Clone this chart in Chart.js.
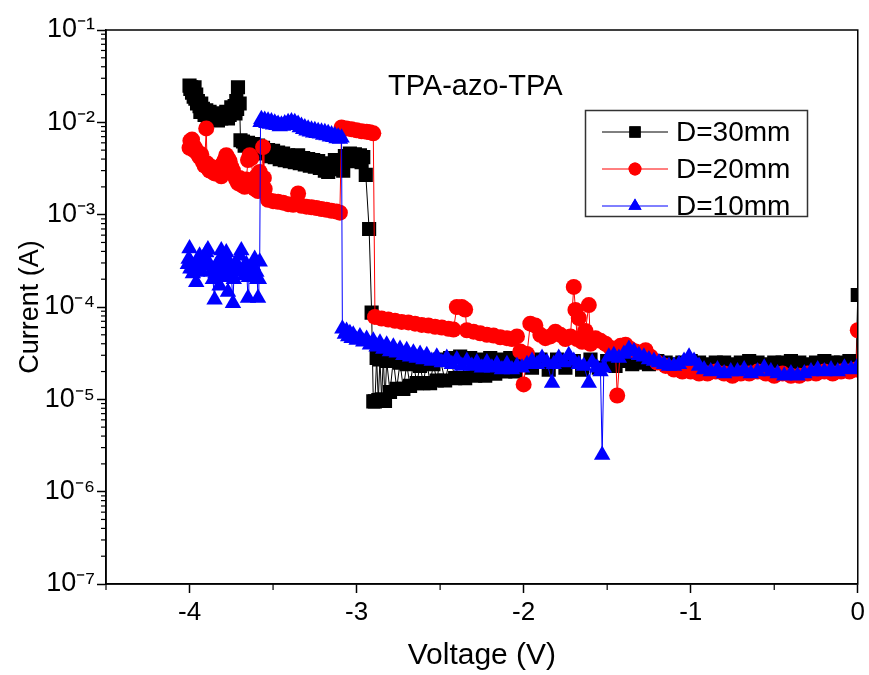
<!DOCTYPE html>
<html><head><meta charset="utf-8">
<script src="https://cdn.jsdelivr.net/npm/chart.js@4/dist/chart.umd.min.js"></script>
<style>html,body{margin:0;padding:0;background:#fff}#wrap{width:869px;height:675px}</style>
</head><body><div id="wrap"><canvas id="c" width="869" height="675"></canvas></div>
<script>
const seriesNames = ['D=30mm', 'D=20mm', 'D=10mm'];
const annotationText = 'TPA-azo-TPA';
const xTickValues = [-4, -3, -2, -1, 0];
const yTickExps = [-7, -6, -5, -4, -3, -2, -1];

const volt30 = [-4.00,-3.995,-3.99,-3.985,-3.98,-3.975,-3.97,-3.965,-3.96,-3.955,-3.95,-3.94,-3.935,-3.93,-3.92,-3.91,-3.90,-3.89,-3.88,-3.87,-3.86,-3.85,-3.84,-3.83,-3.82,-3.81,-3.80,-3.79,-3.78,-3.77,-3.76,-3.75,-3.74,-3.73,-3.725,-3.72,-3.715,-3.71,-3.70,-3.695,
 -3.68,-3.67,-3.65,-3.64,-3.62,-3.61,-3.59,-3.58,-3.56,-3.55,-3.53,-3.52,-3.50,-3.49,-3.47,-3.46,-3.44,-3.43,-3.41,-3.40,-3.38,-3.37,-3.35,-3.34,-3.32,-3.31,-3.29,-3.28,-3.26,-3.25,-3.23,-3.22,-3.20,-3.19,-3.18,-3.17,-3.16,-3.14,-3.13,-3.11,-3.10,-3.08,-3.07,-3.05,-3.04,-3.02,-3.01,-2.99,-2.98,-2.97,-2.96,-2.945,-2.925,-2.91,
 -2.90,-2.89,-2.88,-2.87,-2.86,-2.85,-2.84,-2.83,-2.82,-2.80,-2.78,-2.76,-2.74,-2.72,-2.70,-2.68,-2.66,-2.64,-2.62,-2.60,-2.58,-2.56,-2.54,-2.52,-2.50,-2.47,-2.44,-2.41,-2.38,-2.35,-2.32,-2.29,-2.26,-2.23,-2.20,-2.17,-2.14,-2.11,-2.08,-2.05,-2.00,
 -1.95,-1.90,-1.85,-1.80,-1.75,-1.70,-1.65,-1.60,-1.55,-1.50,-1.45,-1.40,-1.35,-1.30,-1.25,-1.20,-1.15,-1.10,-1.05,-1.00,-0.95,-0.90,-0.85,-0.80,-0.75,-0.70,-0.65,-0.60,-0.55,-0.50,-0.45,-0.40,-0.35,-0.30,-0.25,-0.20,-0.15,-0.10,-0.05,-0.01,0.00];
const curr30 = [2.5e-2,2.3e-2,2.4e-2,2.1e-2,2.3e-2,1.9e-2,2.4e-2,1.8e-2,2.0e-2,1.6e-2,1.7e-2,1.5e-2,1.3e-2,1.6e-2,1.4e-2,1.2e-2,1.35e-2,1.15e-2,1.3e-2,1.1e-2,1.2e-2,1.1e-2,1.15e-2,1.05e-2,1.2e-2,1.1e-2,1.25e-2,1.15e-2,1.3e-2,1.1e-2,1.2e-2,1.45e-2,1.35e-2,1.5e-2,1.25e-2,1.7e-2,1.4e-2,2.4e-2,1.6e-2,6.4e-3,
 6.2e-3,5.6e-3,6.0e-3,5.4e-3,5.8e-3,5.0e-3,5.6e-3,4.8e-3,5.3e-3,4.6e-3,5.0e-3,4.3e-3,4.9e-3,4.2e-3,4.7e-3,4.0e-3,4.6e-3,3.9e-3,4.4e-3,3.8e-3,4.3e-3,3.7e-3,4.4e-3,3.6e-3,4.1e-3,3.5e-3,4.0e-3,3.4e-3,3.9e-3,3.3e-3,3.8e-3,3.2e-3,3.6e-3,3.0e-3,3.2e-3,2.9e-3,3.5e-3,3.3e-3,3.9e-3,3.1e-3,3.4e-3,3.0e-3,4.3e-3,3.8e-3,4.6e-3,4.0e-3,4.5e-3,3.9e-3,4.4e-3,3.7e-3,4.2e-3,2.7e-3,7.0e-4,8.7e-5,
 9.5e-6,9.5e-6,2.8e-5,9.8e-6,2.7e-5,1.0e-5,2.8e-5,9.6e-6,2.6e-5,1.2e-5,2.7e-5,1.3e-5,2.5e-5,1.3e-5,2.4e-5,1.4e-5,2.5e-5,1.5e-5,2.3e-5,1.5e-5,2.6e-5,1.5e-5,2.4e-5,1.6e-5,2.7e-5,1.6e-5,2.8e-5,1.7e-5,2.9e-5,1.7e-5,2.8e-5,1.8e-5,2.7e-5,1.8e-5,2.8e-5,1.9e-5,2.7e-5,2.0e-5,2.8e-5,2.0e-5,2.7e-5,
 2.2e-5,2.7e-5,2.1e-5,2.7e-5,2.2e-5,2.6e-5,2.1e-5,2.7e-5,2.2e-5,2.6e-5,2.3e-5,2.6e-5,2.4e-5,2.5e-5,2.4e-5,2.6e-5,2.5e-5,2.4e-5,2.5e-5,2.6e-5,2.5e-5,2.4e-5,2.5e-5,2.5e-5,2.4e-5,2.5e-5,2.6e-5,2.5e-5,2.4e-5,2.5e-5,2.5e-5,2.6e-5,2.5e-5,2.4e-5,2.5e-5,2.6e-5,2.5e-5,2.5e-5,2.6e-5,2.5e-5,1.35e-4];

const volt20 = [-4.00,-3.995,-3.99,-3.985,-3.98,-3.975,-3.97,-3.96,-3.95,-3.94,-3.93,-3.92,-3.91,-3.90,-3.895,-3.89,-3.88,-3.87,-3.86,-3.85,-3.84,-3.83,-3.82,-3.81,-3.80,-3.79,-3.78,-3.77,-3.76,-3.75,-3.74,-3.73,-3.72,-3.71,-3.70,-3.69,-3.68,-3.67,-3.66,-3.65,-3.64,-3.63,-3.62,-3.61,-3.60,-3.59,-3.58,-3.57,-3.56,-3.555,-3.55,
 -3.53,-3.50,-3.47,-3.44,-3.41,-3.38,-3.35,-3.33,-3.30,-3.27,-3.24,-3.21,-3.18,-3.15,-3.12,-3.10,
 -3.09,-3.06,-3.03,-3.00,-2.97,-2.94,-2.92,-2.90,
 -2.89,-2.85,-2.81,-2.77,-2.73,-2.69,-2.65,-2.61,-2.57,-2.53,-2.49,-2.45,-2.42,-2.40,-2.37,-2.35,-2.34,-2.30,-2.26,-2.22,-2.18,-2.14,-2.10,-2.07,-2.04,-2.02,-2.00,-1.98,
 -1.96,-1.93,-1.90,-1.87,-1.84,-1.81,-1.78,-1.75,-1.72,-1.70,-1.69,-1.68,-1.67,-1.65,-1.63,-1.61,-1.60,-1.57,-1.54,-1.51,-1.48,-1.45,-1.44,-1.42,-1.39,-1.36,-1.33,-1.30,-1.27,-1.24,-1.20,-1.15,
 -1.10,-1.05,-1.00,-0.95,-0.90,-0.85,-0.80,-0.75,-0.70,-0.65,-0.60,-0.55,-0.50,-0.45,-0.40,-0.35,-0.30,-0.25,-0.20,-0.15,-0.10,-0.05,-0.01,0.00];
const curr20 = [5.3e-3,6.3e-3,5.8e-3,6.5e-3,5.6e-3,5.0e-3,5.4e-3,5.0e-3,4.5e-3,4.2e-3,4.5e-3,3.7e-3,3.4e-3,8.6e-3,3.6e-3,3.2e-3,3.0e-3,3.3e-3,2.9e-3,2.8e-3,3.1e-3,2.9e-3,3.3e-3,2.6e-3,3.6e-3,3.9e-3,4.4e-3,4.1e-3,3.8e-3,3.3e-3,3.0e-3,2.6e-3,2.4e-3,2.2e-3,2.5e-3,2.1e-3,2.3e-3,2.0e-3,2.4e-3,3.9e-3,4.4e-3,4.1e-3,2.2e-3,1.9e-3,2.6e-3,1.8e-3,2.9e-3,2.4e-3,5.4e-3,2.5e-3,1.9e-3,
 1.45e-3,1.40e-3,1.38e-3,1.35e-3,1.30e-3,1.28e-3,1.7e-3,1.25e-3,1.22e-3,1.20e-3,1.18e-3,1.15e-3,1.13e-3,1.10e-3,1.08e-3,1.05e-3,
 8.8e-3,8.6e-3,8.4e-3,8.2e-3,8.0e-3,7.9e-3,7.8e-3,7.6e-3,
 7.8e-5,7.5e-5,7.3e-5,7.1e-5,6.9e-5,6.8e-5,6.6e-5,6.4e-5,6.3e-5,6.1e-5,6.0e-5,5.8e-5,5.7e-5,1.0e-4,1.0e-4,9.4e-5,5.6e-5,5.4e-5,5.2e-5,5.0e-5,4.9e-5,4.7e-5,4.6e-5,4.5e-5,4.8e-5,3.3e-5,1.45e-5,3.1e-5,
 6.6e-5,6.3e-5,5.0e-5,4.6e-5,4.8e-5,5.4e-5,5.0e-5,4.5e-5,4.8e-5,1.65e-4,9.3e-5,4.5e-5,7.6e-5,4.2e-5,5.5e-5,1.05e-4,4.0e-5,4.6e-5,4.3e-5,4.0e-5,3.6e-5,3.2e-5,1.1e-5,3.8e-5,3.9e-5,3.5e-5,3.3e-5,3.2e-5,3.4e-5,2.9e-5,2.5e-5,2.3e-5,
 2.1e-5,2.0e-5,2.0e-5,1.9e-5,1.9e-5,2.0e-5,1.9e-5,1.8e-5,1.9e-5,1.9e-5,2.0e-5,1.9e-5,1.8e-5,1.9e-5,1.8e-5,1.8e-5,1.9e-5,1.9e-5,2.0e-5,1.9e-5,2.0e-5,2.0e-5,2.1e-5,5.6e-5];

const volt10 = [-4.01,-4.005,-4.00,-3.995,-3.99,-3.98,-3.97,-3.96,-3.955,-3.95,-3.94,-3.93,-3.92,-3.91,-3.90,-3.89,-3.88,-3.87,-3.86,-3.85,-3.845,-3.84,-3.83,-3.82,-3.815,-3.81,-3.80,-3.79,-3.785,-3.78,-3.775,-3.77,-3.765,-3.76,-3.75,-3.74,-3.735,-3.73,-3.72,-3.71,-3.70,-3.69,-3.68,-3.67,-3.66,-3.65,-3.645,-3.64,-3.63,-3.62,-3.61,-3.60,-3.595,-3.59,-3.585,-3.58,
 -3.575,-3.57,-3.56,-3.55,-3.54,-3.53,-3.52,-3.51,-3.50,-3.49,-3.48,-3.47,-3.46,-3.45,-3.44,-3.43,-3.42,-3.41,-3.40,-3.39,-3.38,-3.37,-3.36,-3.35,-3.34,-3.33,-3.32,-3.31,-3.30,-3.29,-3.28,-3.27,-3.26,-3.25,-3.24,-3.23,-3.22,-3.21,-3.20,-3.19,-3.18,-3.17,-3.16,-3.15,-3.14,-3.13,-3.12,-3.11,-3.10,-3.09,
 -3.085,-3.07,-3.06,-3.05,-3.04,-3.03,-3.02,-3.00,-2.98,-2.96,-2.94,-2.92,-2.90,-2.88,-2.86,-2.84,-2.82,-2.80,-2.78,-2.76,-2.74,-2.72,-2.70,-2.68,-2.66,-2.64,-2.62,-2.60,-2.58,-2.55,-2.52,-2.49,-2.46,-2.43,-2.40,-2.37,-2.34,-2.31,-2.28,-2.25,-2.22,-2.19,-2.16,-2.13,-2.10,-2.07,-2.04,-2.01,
 -1.98,-1.95,-1.92,-1.89,-1.86,-1.83,-1.82,-1.79,-1.76,-1.73,-1.70,-1.67,-1.64,-1.61,-1.59,-1.56,-1.54,-1.53,-1.52,-1.49,-1.46,-1.43,-1.40,-1.37,-1.34,-1.31,-1.28,-1.25,-1.22,-1.19,-1.16,-1.13,-1.10,-1.07,-1.04,-1.01,-0.98,-0.95,
 -0.92,-0.88,-0.84,-0.80,-0.76,-0.72,-0.68,-0.64,-0.60,-0.56,-0.52,-0.48,-0.44,-0.40,-0.36,-0.32,-0.28,-0.24,-0.20,-0.16,-0.12,-0.08,-0.04,0.00];
const curr10 = [2.9e-4,3.3e-4,4.3e-4,2.6e-4,3.0e-4,2.3e-4,2.6e-4,1.85e-4,2.4e-4,3.1e-4,3.6e-4,2.5e-4,2.8e-4,3.3e-4,3.9e-4,4.2e-4,2.9e-4,2.4e-4,2.0e-4,1.2e-4,2.3e-4,2.8e-4,2.2e-4,1.7e-4,3.4e-4,4.1e-4,3.0e-4,2.5e-4,3.5e-4,3.9e-4,2.1e-4,1.45e-4,2.6e-4,3.0e-4,2.3e-4,1.1e-4,2.0e-4,2.7e-4,3.0e-4,2.4e-4,3.6e-4,4.1e-4,2.6e-4,2.2e-4,2.9e-4,1.25e-4,2.1e-4,2.6e-4,2.2e-4,2.8e-4,3.3e-4,2.4e-4,2.0e-4,1.25e-4,2.0e-4,3.1e-4,
 1.0e-2,1.08e-2,1.0e-2,1.06e-2,9.8e-3,1.04e-2,9.6e-3,1.02e-2,9.4e-3,9.9e-3,9.3e-3,9.6e-3,9.0e-3,9.4e-3,9.1e-3,9.7e-3,9.3e-3,1.0e-2,9.5e-3,1.02e-2,9.6e-3,1.0e-2,9.3e-3,9.6e-3,8.8e-3,9.1e-3,8.4e-3,8.8e-3,8.1e-3,8.5e-3,7.9e-3,8.3e-3,7.7e-3,8.2e-3,7.6e-3,8.0e-3,7.5e-3,7.9e-3,7.3e-3,7.8e-3,7.2e-3,7.6e-3,7.0e-3,7.4e-3,6.9e-3,7.2e-3,6.7e-3,7.0e-3,6.6e-3,6.8e-3,
 5.8e-5,5.1e-5,5.5e-5,4.8e-5,5.2e-5,4.6e-5,5.0e-5,4.4e-5,4.8e-5,4.2e-5,4.5e-5,3.9e-5,4.3e-5,3.7e-5,4.1e-5,3.5e-5,3.9e-5,3.3e-5,3.7e-5,3.2e-5,3.5e-5,3.0e-5,3.4e-5,2.9e-5,3.2e-5,2.8e-5,3.1e-5,2.7e-5,3.0e-5,2.6e-5,2.9e-5,2.5e-5,2.8e-5,2.4e-5,2.7e-5,2.3e-5,2.6e-5,2.3e-5,2.5e-5,2.2e-5,2.5e-5,2.2e-5,2.4e-5,2.1e-5,2.4e-5,2.1e-5,2.3e-5,2.2e-5,
 2.4e-5,2.6e-5,2.4e-5,2.8e-5,2.5e-5,1.5e-5,2.4e-5,2.8e-5,2.5e-5,3.0e-5,2.6e-5,2.4e-5,2.3e-5,1.5e-5,2.5e-5,2.2e-5,2.0e-5,2.5e-6,2.2e-5,2.9e-5,3.0e-5,2.8e-5,3.1e-5,3.5e-5,3.3e-5,3.0e-5,2.9e-5,2.7e-5,2.6e-5,2.5e-5,2.4e-5,2.3e-5,2.3e-5,2.4e-5,2.6e-5,2.9e-5,2.6e-5,2.3e-5,
 2.1e-5,2.0e-5,2.1e-5,1.9e-5,2.0e-5,2.0e-5,2.1e-5,1.9e-5,2.0e-5,2.2e-5,2.0e-5,1.9e-5,1.8e-5,1.9e-5,1.8e-5,1.9e-5,2.0e-5,2.1e-5,2.0e-5,2.1e-5,2.0e-5,2.2e-5,2.1e-5,2.3e-5];

const FONT = "'Liberation Sans', Arial, sans-serif";
const supMap = {'-':'\u207B','0':'\u2070','1':'\u00B9','2':'\u00B2','3':'\u00B3','4':'\u2074','5':'\u2075','6':'\u2076','7':'\u2077','8':'\u2078','9':'\u2079'};
const sup = e => String(e).split('').map(c => supMap[c]).join('');
const pts = (xs, ys) => xs.map((v, i) => ({x: v, y: ys[i]}));

const styles = [
  {color: '#000000', pointStyle: 'rect', radius: 10},
  {color: '#ff0000', pointStyle: 'circle', radius: 8},
  {color: '#0000ff', pointStyle: 'triangle', radius: 9.5}
];
const allData = [pts(volt30, curr30), pts(volt20, curr20), pts(volt10, curr10)];

const datasets = allData.map((d, i) => ({
  label: seriesNames[i], data: d,
  borderColor: styles[i].color, backgroundColor: styles[i].color,
  borderWidth: 1, pointStyle: styles[i].pointStyle, pointRadius: styles[i].radius,
  pointBorderWidth: 0, pointHoverRadius: styles[i].radius, tension: 0,
  clip: {left: 12, top: 12, right: 0, bottom: 12},
  order: 3 - i
}));

const framePlugin = {
  id: 'frame',
  afterDraw(chart) {
    const ctx = chart.ctx;
    const {left, right, top, bottom} = chart.chartArea;
    ctx.save();
    ctx.strokeStyle = '#000'; ctx.lineWidth = 1.5;
    ctx.strokeRect(left, top, right - left, bottom - top);
    const xs = chart.scales.x, ys = chart.scales.y;
    ctx.lineWidth = 1.2;
    for (let v = -4.5; v < 0; v += 1) {
      const px = xs.getPixelForValue(v);
      ctx.beginPath(); ctx.moveTo(px, bottom); ctx.lineTo(px, bottom + 6); ctx.stroke();
    }
    for (let e = -7; e < -1; e++) {
      for (let k = 2; k <= 9; k++) {
        const py = ys.getPixelForValue(k * Math.pow(10, e));
        ctx.beginPath(); ctx.moveTo(left, py); ctx.lineTo(left - 5, py); ctx.stroke();
      }
    }
    ctx.fillStyle = '#000';
    ctx.font = '29px ' + FONT;
    ctx.textAlign = 'center'; ctx.textBaseline = 'middle';
    ctx.fillText(annotationText, xs.getPixelForValue(-2.29), 87);
    const bx = 585, by = 110, bw = 222, bh = 106;
    ctx.lineWidth = 1.5; ctx.strokeStyle = '#333';
    ctx.strokeRect(bx + 0.5, by + 0.5, bw, bh);
    const rowsY = [132, 169, 206];
    ctx.textAlign = 'left';
    ctx.font = '28px ' + FONT;
    for (let i = 0; i < 3; i++) {
      const y = rowsY[i];
      ctx.strokeStyle = styles[i].color; ctx.lineWidth = 1;
      ctx.beginPath(); ctx.moveTo(602, y); ctx.lineTo(668, y); ctx.stroke();
      ctx.fillStyle = styles[i].color;
      Chart.helpers.drawPoint(ctx, {pointStyle: styles[i].pointStyle, radius: styles[i].radius * 0.8, borderWidth: 0, rotation: 0}, 635, y);
      ctx.fill();
      ctx.fillStyle = '#000';
      ctx.fillText(seriesNames[i], 676, y + 1);
    }
    ctx.restore();
  }
};

new Chart(document.getElementById('c'), {
  type: 'line',
  data: {datasets},
  options: {
    responsive: false, animation: false,
    layout: {padding: {top: 30, right: 8, left: 0, bottom: 0}},
    plugins: {legend: {display: false}, tooltip: {enabled: false}},
    scales: {
      x: {
        type: 'linear', min: -4.5, max: 0,
        afterBuildTicks: s => { s.ticks = xTickValues.map(v => ({value: v})); },
        afterFit: s => { s.height = 91; },
        grid: {drawOnChartArea: false, drawTicks: true, tickLength: 9, tickColor: '#000', tickWidth: 1.5},
        border: {display: true, color: '#000', width: 1.5},
        ticks: {color: '#000', font: {family: FONT, size: 26}, padding: 4, maxRotation: 0,
          callback: v => String(v)},
        title: {display: true, text: 'Voltage (V)', color: '#000', font: {family: FONT, size: 30}, padding: {top: 0, bottom: 1}}
      },
      y: {
        type: 'logarithmic', min: 1e-7, max: 1e-1,
        afterBuildTicks: s => { s.ticks = yTickExps.map(e => ({value: Math.pow(10, e)})); },
        afterFit: s => { s.width = 106; },
        grid: {drawOnChartArea: false, drawTicks: true, tickLength: 9, tickColor: '#000', tickWidth: 1.5},
        border: {display: true, color: '#000', width: 1.5},
        ticks: {color: '#000', font: {family: FONT, size: 27}, padding: 2,
          callback: v => '10' + sup(Math.round(Math.log10(v)))},
        title: {display: true, text: 'Current (A)', color: '#000', font: {family: FONT, size: 27}, padding: {top: 14, bottom: 0}}
      }
    }
  },
  plugins: [framePlugin]
});
</script>
</body></html>
